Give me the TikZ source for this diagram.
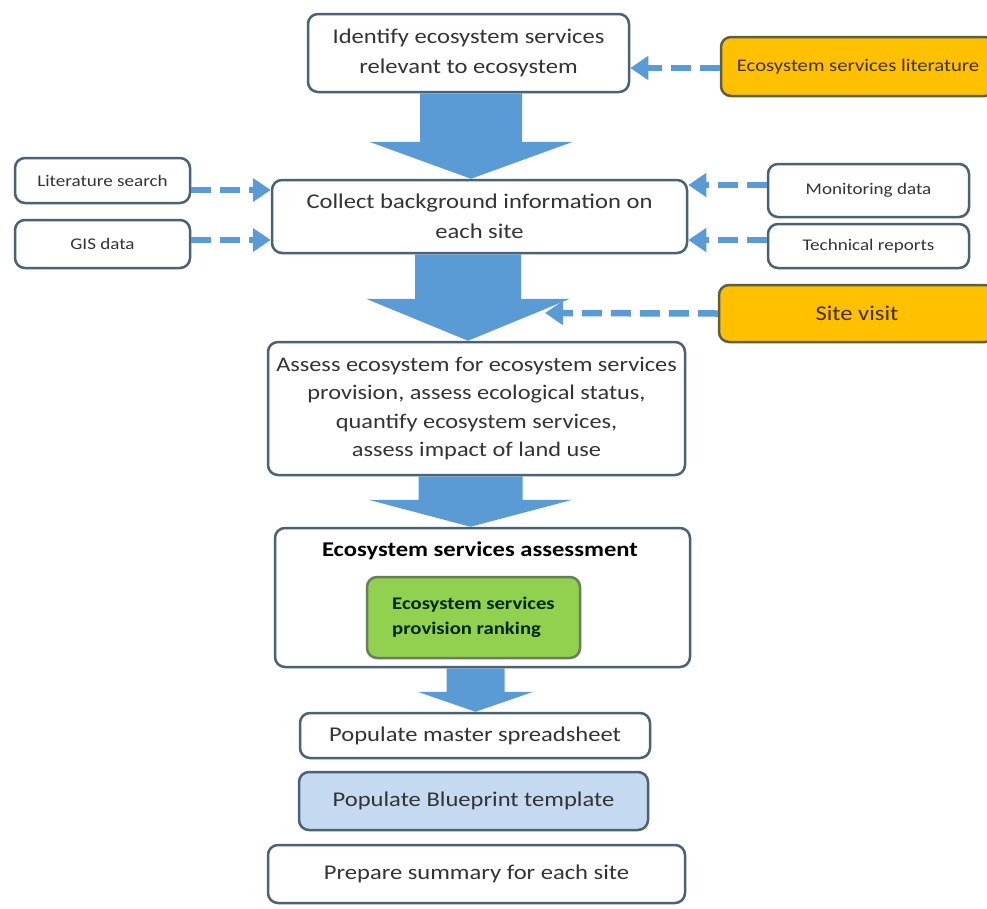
\documentclass[tikz,border=0pt]{standalone}
\usepackage{fontspec}
\setmainfont{Carlito}[FakeStretch=1.17]
\usetikzlibrary{calc,arrows.meta}
\definecolor{boxline}{HTML}{4B6175}
\definecolor{fatblue}{HTML}{5B9BD5}
\definecolor{srcorange}{HTML}{FFC000}
\definecolor{srcline}{HTML}{5E5E46}
\definecolor{rankgreen}{HTML}{92D050}
\definecolor{rankline}{HTML}{66805A}
\definecolor{bpblue}{HTML}{C5D9F1}
\definecolor{txt}{HTML}{333333}
\newcommand{\fatarrow}[6]{%
  \fill[fatblue] ($(#1.south)+(#3-#4,0)$) -- ($(#1.south |- #2.north)+(#3-#4,-#6)$)
    -- ($(#1.south |- #2.north)+(#3-#5,-#6)$) -- ($(#1.south |- #2.north)+(#3,0)$)
    -- ($(#1.south |- #2.north)+(#3+#5,-#6)$) -- ($(#1.south |- #2.north)+(#3+#4,-#6)$)
    -- ($(#1.south)+(#3+#4,0)$) -- cycle;}
\begin{document}
\begin{tikzpicture}[x=1pt,y=-1pt]
        \tikzset{
        stepbox/.style={draw=boxline, line width=2.5pt, rounded corners=10pt, fill=white,
        inner sep=0pt, align=center, text=txt, font=\fontsize{21}{29.5}\selectfont},
        smallbox/.style={stepbox, font=\fontsize{16.3}{19}\selectfont},
        srcbox/.style={stepbox, fill=srcorange, draw=srcline, text=black!75!srcorange},
        rankbox/.style={stepbox, fill=rankgreen, draw=rankline, align=left,
        text=black!85!green, font=\fontsize{17.7}{25}\selectfont\bfseries},
        dasharr/.style={draw=fatblue, line width=6.5pt, dash pattern=on 20pt off 9pt,
        -{Triangle[length=18pt,width=23pt]}}
        }
        \useasboundingbox (0,0) rectangle (987,908);
        \clip (0,0) rectangle (987,908);

        \node[stepbox, minimum width=321pt, minimum height=78pt] (ident) at (468.5,53)
        {Identify ecosystem services\\relevant to ecosystem};
        \node[srcbox, minimum width=274pt, minimum height=59pt, font=\fontsize{17.7}{20}\selectfont] (eslit) at (858,66.5)
        {Ecosystem services literature};
        \node[stepbox, minimum width=415pt, minimum height=73pt] (collect) at (479.5,216.5)
        {Collect background information on\\each site};
        \node[smallbox, minimum width=175pt, minimum height=45pt] (litsearch) at (102.5,180.5) {Literature search};
        \node[smallbox, minimum width=175pt, minimum height=48pt] (gis) at (102.5,244) {GIS data};
        \node[smallbox, minimum width=201pt, minimum height=53pt] (monitor) at (868.5,190.5) {Monitoring data};
        \node[smallbox, minimum width=201pt, minimum height=44pt] (techrep) at (868.5,246) {Technical reports};
        \node[srcbox, minimum width=276pt, minimum height=57pt, font=\fontsize{21}{24}\selectfont] (sitevisit) at (857,313.5)
        {Site visit};
        \coordinate (svtip) at (545,313);
        \node[stepbox, minimum width=417pt, minimum height=133pt, font=\fontsize{20.8}{28.5}\selectfont] (assess) at (476.5,408.5)
        {Assess ecosystem for ecosystem services\\provision, assess ecological status,\\quantify ecosystem services,\\assess impact of land use};
        \node[stepbox, minimum width=415pt, minimum height=139pt] (esa) at (482.5,597.5) {};
        \node[text=black, font=\fontsize{21}{24}\selectfont\bfseries] (esatitle) at (480,551)
        {Ecosystem services assessment};
        \node[rankbox, minimum width=213pt, minimum height=81pt] (rank) at (473.5,617.5)
        {Ecosystem services\\provision ranking};
        \node[stepbox, minimum width=350pt, minimum height=45pt] (master) at (475,735.5)
        {Populate master spreadsheet};
        \node[stepbox, fill=bpblue, minimum width=349pt, minimum height=58pt] (blueprint) at (473.5,801)
        {Populate Blueprint template};
        \node[stepbox, minimum width=417pt, minimum height=58pt] (summary) at (476.5,874)
        {Prepare summary for each site};

        \fatarrow{ident}{collect}{2.5}{51}{102}{37}
        \fatarrow{collect}{assess}{-11.5}{53}{102}{42}
        \fatarrow{assess}{esa}{-6}{52}{102}{27}
        \fatarrow{esa}{master}{-7}{29}{58}{20}

        \draw[dasharr] ([yshift=-1.5pt]eslit.west) -- ([yshift=-1.5pt]eslit.west -| ident.east);
        \draw[dasharr] ([yshift=-9.5pt]litsearch.east) -- ([yshift=-9.5pt]litsearch.east -| collect.west);
        \draw[dasharr] ([yshift=4pt]gis.east) -- ([yshift=4pt]gis.east -| collect.west);
        \draw[dasharr] ([yshift=5.5pt]monitor.west) -- ([yshift=5.5pt]monitor.west -| collect.east);
        \draw[dasharr] ([yshift=6pt]techrep.west) -- ([yshift=6pt]techrep.west -| collect.east);
        \draw[dasharr] (sitevisit.west) -- (svtip);
\end{tikzpicture}
\end{document}
